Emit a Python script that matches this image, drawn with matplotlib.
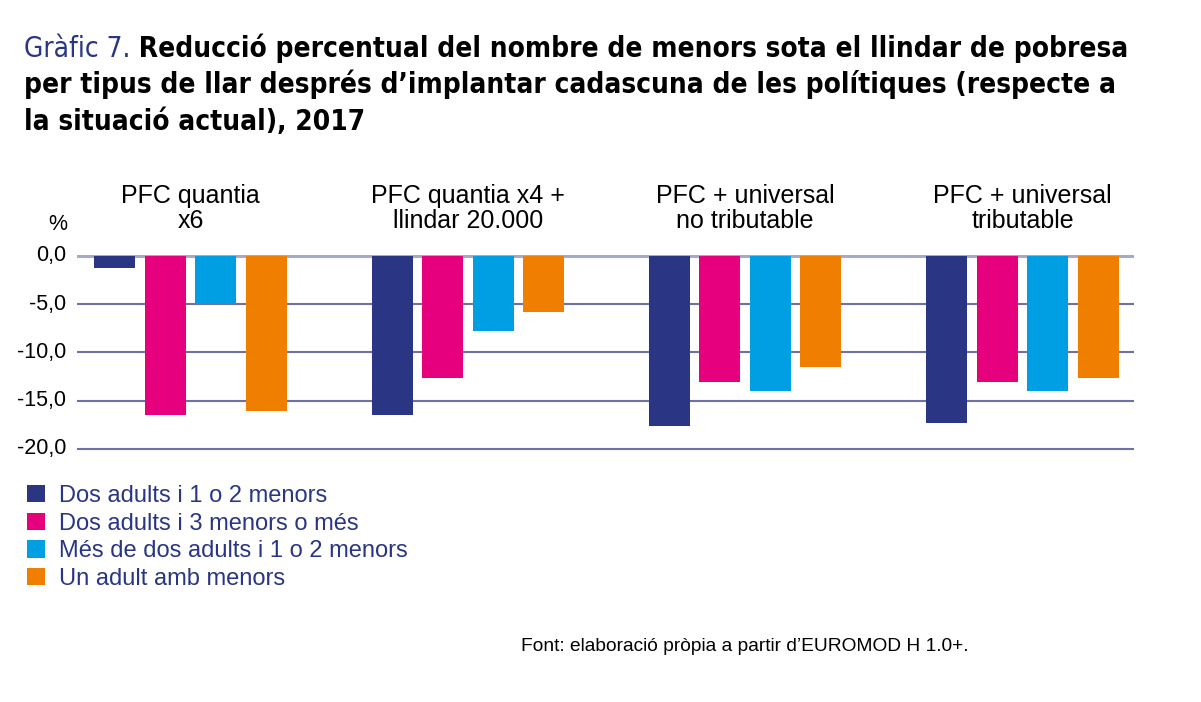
import matplotlib
matplotlib.use("Agg")
import matplotlib.pyplot as plt
from matplotlib import font_manager as fm
import numpy as np

# policies (groups) and household types (series)
groups = ["PFC quantia\nx6", "PFC quantia x4 +\nllindar 20.000",
          "PFC + universal\nno tributable", "PFC + universal\ntributable"]
households = ["Dos adults i 1 o 2 menors", "Dos adults i 3 menors o més",
              "Més de dos adults i 1 o 2 menors", "Un adult amb menors"]

# % change vs current situation, one list per household type
dosAdults12 = [-1.2, -16.5, -17.6, -17.3]
dosAdults3 = [-16.5, -12.6, -13.1, -13.1]
mesDosAdults = [-5.0, -7.8, -14.0, -14.0]
unAdult = [-16.1, -5.8, -11.5, -12.6]

yticks = [0, -5, -10, -15, -20]
yticklabels = ["0,0", "-5,0", "-10,0", "-15,0", "-20,0"]

titleLines = ["Reducció percentual del nombre de menors sota el llindar de pobresa",
              "per tipus de llar després d’implantar cadascuna de les polítiques (respecte a",
              "la situació actual), 2017"]

colors = ["#2a3583", "#e6007e", "#009fe3", "#f07e00"]
navy = "#2a3583"
body = ["Liberation Sans", "DejaVu Sans"]

# look for a narrow / condensed face for the title, else Liberation Sans
def findFace(bold):
    for f in fm.fontManager.ttflist:
        n = f.name + " " + f.fname
        if ("Narrow" in n or "Condensed" in n) and "Mono" not in n:
            isBold = (f.weight in ("bold", 700) or (isinstance(f.weight, int) and f.weight >= 700))
            if isBold == bold and f.style == "normal":
                return fm.FontProperties(fname=f.fname)
    return fm.FontProperties(family=body, weight="bold" if bold else "normal")

titleBold = findFace(True)
titleReg = findFace(False)

W, H = 1201, 702
fig = plt.figure(figsize=(W / 100, H / 100), dpi=100)

def fx(px):
    return px / W

def fy(py):
    return 1 - py / H

# axes placed so that 0 sits at y=256px and -20 at y=449px
ppu = (449 - 256) / 20.0
top = 256 - ppu
bottom = 449 + ppu
ax = fig.add_axes([fx(77), fy(bottom), fx(1134) - fx(77), (bottom - top) / H])
ax.set_ylim(-21, 1)
ax.set_xlim(-0.409, 3.402)
ax.axis("off")

for v in yticks:
    if v == 0:
        ax.axhline(v, color="#a3a9cf", lw=2.2, zorder=1)
    else:
        ax.axhline(v, color="#6c72a8", lw=1.5, zorder=1)

series = [dosAdults12, dosAdults3, mesDosAdults, unAdult]
x = np.arange(len(groups))
step = 0.182
width = 0.148
handles = []
for i, vals in enumerate(series):
    b = ax.bar(x + (i - 1.5) * step, vals, width, color=colors[i], zorder=2,
               label=households[i])
    handles.append(b)

# y tick labels
for v, lab in zip(yticks, yticklabels):
    ax.annotate(lab, xy=(0, v), xycoords=("axes fraction", "data"),
                xytext=(-11, 0), textcoords="offset pixels",
                ha="right", va="center", fontsize=15.5, family=body)
fig.text(fx(58), fy(230), "%", ha="center", va="baseline", fontsize=15.5, family=body)

# group labels above the bars, one line at a time
for i, g in enumerate(groups):
    for j, line in enumerate(g.split("\n")):
        ax.annotate(line, xy=(i, 0), xycoords="data",
                    xytext=(0, 256 - (203 + 25 * j)), textcoords="offset pixels",
                    ha="center", va="baseline", fontsize=18, family=body,
                    annotation_clip=False)

# title: fit size so that the first line spans the same width as the reference
fig.canvas.draw()
r = fig.canvas.get_renderer()
size = 24
for _ in range(3):
    titleReg.set_size(size)
    titleBold.set_size(size)
    a = fig.text(0, 0, "Gràfic 7.", fontproperties=titleReg)
    b = fig.text(0, 0, " " + titleLines[0], fontproperties=titleBold)
    w = a.get_window_extent(r).width + b.get_window_extent(r).width
    a.remove()
    b.remove()
    size = size * 1108.0 / w
titleReg.set_size(size)
titleBold.set_size(size)

t1 = fig.text(fx(24), fy(57), "Gràfic 7.", ha="left", va="baseline",
              color=navy, fontproperties=titleReg)
bb = t1.get_window_extent(r)
fig.text(bb.x1 / W, fy(57), " " + titleLines[0], ha="left", va="baseline",
         fontproperties=titleBold)
fig.text(fx(24), fy(93), titleLines[1], ha="left", va="baseline",
         fontproperties=titleBold)
fig.text(fx(24), fy(130), titleLines[2], ha="left", va="baseline",
         fontproperties=titleBold)

# legend
leg = fig.legend(handles=handles, loc="upper left",
                 bbox_to_anchor=(fx(27), fy(485)), frameon=False,
                 prop={"family": body, "size": 17}, labelcolor=navy,
                 handlelength=0.76, handleheight=0.76, handletextpad=0.59,
                 labelspacing=0.24, borderpad=0, borderaxespad=0)

# source
fig.text(fx(521), fy(651), "Font: elaboració pròpia a partir d’EUROMOD H 1.0+.",
         ha="left", va="baseline", fontsize=13.8, family=body)

fig.savefig("out.png", dpi=100)
